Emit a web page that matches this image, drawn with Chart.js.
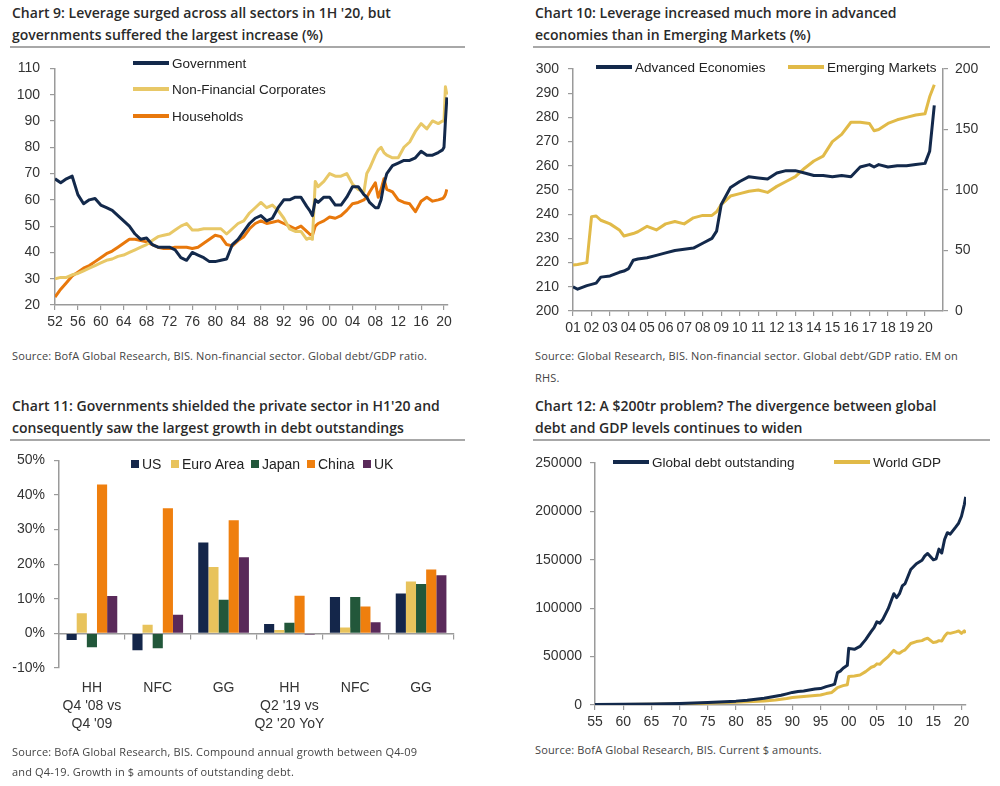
<!DOCTYPE html>
<html>
<head>
<meta charset="utf-8">
<script src="https://cdn.jsdelivr.net/npm/chart.js@4.4.1/dist/chart.umd.min.js"></script>
<style>
  body { margin: 0; background: #fff; width: 1000px; height: 786px; position: relative; overflow: hidden; font-family: 'Liberation Sans', Arial, sans-serif; }
  .title { position: absolute; font-family: 'Open Sans', sans-serif; font-weight: 600; font-size: 14px; line-height: 22px; color: #2a2a2a; padding-left: 2px; height: 44px; border-bottom: 2px solid #a8a8a8; white-space: nowrap; }
  .src { position: absolute; font-family: 'Open Sans', sans-serif; font-size: 11px; color: #444; letter-spacing: 0.15px; white-space: nowrap; }
  .box { position: absolute; }
  .lg { position: absolute; display: flex; align-items: center; font-size: 13.5px; color: #222; white-space: nowrap; height: 16px; }
  .lg i { display: inline-block; width: 36px; height: 4px; margin-right: 3px; }
  .lg b { display: inline-block; width: 8px; height: 8px; margin-right: 3px; }
</style>
</head>
<body>

<div class="title" style="left:10px; top:2px; width:453px;">Chart 9: Leverage surged across all sectors in 1H '20, but<br>governments suffered the largest increase (%)</div>
<div class="title" style="left:533px; top:2px; width:455px;">Chart 10: Leverage increased much more in advanced<br>economies than in Emerging Markets (%)</div>
<div class="title" style="left:10px; top:395px; width:453px;">Chart 11: Governments shielded the private sector in H1'20 and<br>consequently saw the largest growth in debt outstandings</div>
<div class="title" style="left:533px; top:395px; width:455px;">Chart 12: A $200tr problem? The divergence between global<br>debt and GDP levels continues to widen</div>

<div class="box" style="left:10px; top:50px; width:455px; height:290px;"><canvas id="c9"></canvas></div>
<div class="box" style="left:533px; top:50px; width:457px; height:290px;"><canvas id="c10"></canvas></div>
<div class="box" style="left:10px; top:443px; width:455px; height:300px;"><canvas id="c11"></canvas></div>
<div class="box" style="left:533px; top:443px; width:457px; height:290px;"><canvas id="c12"></canvas></div>

<!-- legends -->
<div class="lg" style="left:133px; top:55px;"><i style="background:#13294b"></i>Government</div>
<div class="lg" style="left:133px; top:81px;"><i style="background:#e8c867"></i>Non-Financial Corporates</div>
<div class="lg" style="left:133px; top:108px;"><i style="background:#e8780c"></i>Households</div>

<div class="lg" style="left:596px; top:59px;"><i style="background:#13294b"></i>Advanced Economies</div>
<div class="lg" style="left:788px; top:59px;"><i style="background:#e1ba48"></i>Emerging Markets</div>

<div class="lg" style="left:131px; top:456px; font-size:14px;"><b style="background:#14264a"></b>US</div>
<div class="lg" style="left:171px; top:456px; font-size:14px;"><b style="background:#e8c35c"></b>Euro Area</div>
<div class="lg" style="left:251px; top:456px; font-size:14px;"><b style="background:#22573a"></b>Japan</div>
<div class="lg" style="left:307px; top:456px; font-size:14px;"><b style="background:#ef7f0e"></b>China</div>
<div class="lg" style="left:363px; top:456px; font-size:14px;"><b style="background:#5a2a5a"></b>UK</div>

<div class="lg" style="left:613px; top:454px;"><i style="background:#13294b"></i>Global debt outstanding</div>
<div class="lg" style="left:834px; top:454px;"><i style="background:#e1ba48"></i>World GDP</div>

<div class="src" style="left:12px; top:345px; line-height:22px;">Source: BofA Global Research, BIS. Non-financial sector. Global debt/GDP ratio.</div>
<div class="src" style="left:535px; top:345px; line-height:22px;">Source: Global Research, BIS. Non-financial sector. Global debt/GDP ratio. EM on<br>RHS.</div>
<div class="src" style="left:12px; top:742px; line-height:20px;">Source: BofA Global Research, BIS. Compound annual growth between Q4-09<br>and Q4-19. Growth in $ amounts of outstanding debt.</div>
<div class="src" style="left:535px; top:740px; line-height:20px;">Source: BofA Global Research, BIS. Current $ amounts.</div>

<script>
// ---- Chart 9: debt/GDP by sector (%) ----
const names9 = ['Government', 'Non-Financial Corporates', 'Households'];
const years9 = [
  1952, 1953, 1954, 1955, 1956, 1957, 1958, 1959,
  1960, 1961, 1962, 1963, 1964, 1965, 1966, 1967, 1968, 1969,
  1970, 1971, 1972, 1973, 1974, 1975, 1976, 1977, 1978, 1979,
  1980, 1981, 1982, 1983, 1984, 1985, 1986, 1987, 1988, 1989,
  1990, 1991, 1992, 1993, 1994, 1995, 1996, 1996.5, 1997, 1997.5, 1998, 1999,
  2000, 2001, 2002, 2003, 2004, 2005, 2006, 2006.5, 2007, 2008, 2008.5, 2009, 2009.5,
  2010, 2011, 2012, 2013, 2014, 2015, 2016, 2017, 2018, 2019, 2019.75, 2020, 2020.25, 2020.5
];
const gov9 = [
  68, 66.5, 68, 69, 62, 58.5, 60, 60.5,
  58, 57, 56, 54, 52, 50, 47, 45, 45.5, 43,
  42, 42, 42, 41, 38, 37, 40, 39, 38, 36.5,
  36.5, 37, 37.5, 43, 45, 48, 51, 53, 54, 52,
  53, 57, 60, 60, 61, 61, 57.5, 56, 54, 60, 59, 61,
  61, 58, 58, 61, 65, 65, 62, 61, 59, 57, 57, 60, 66,
  70, 73, 74, 75, 75, 76, 78.5, 77, 77, 78, 79, 80, 90, 99
];
const nfc9 = [
  30, 30.5, 30.5, 31.5, 32, 33, 34, 35,
  36, 37, 37.5, 38.5, 39, 40, 41, 42, 43, 44.5,
  46, 46.5, 47, 48.5, 50, 51, 48.5, 48.5, 49, 49,
  49, 49, 47, 49, 51, 52, 55, 57, 59, 57,
  58, 56, 53, 49, 48, 48, 45, 45.5, 45, 67, 65, 67,
  70, 69, 69, 70, 66, 64, 63, 70, 72, 77, 79, 80, 78,
  77, 76, 76, 80, 82, 86, 89, 87, 90, 89, 90, 90, 103, 100
];
const hh9 = [
  23, 26, 28.5, 31, 32.5, 34, 35, 36.5,
  38, 39.5, 40.5, 42, 43.5, 45, 45, 44.5, 44, 43,
  42, 41.5, 41.5, 42, 42, 42, 41.5, 42, 43.5, 45,
  46.5, 46, 43, 42.5, 44.5, 46, 49, 51, 52, 51,
  51.5, 52, 51, 50, 49, 50, 48, 47, 46.5, 50, 51, 52,
  53.5, 53, 54, 56, 58.5, 59, 60, 61, 63, 66.5, 61, 64, 68,
  64, 63, 60, 59, 58.5, 55.5, 59.5, 61, 59.5, 60, 60.5, 61, 62, 64
];
const xTicks9 = [1952, 1956, 1960, 1964, 1968, 1972, 1976, 1980, 1984, 1988, 1992, 1996, 2000, 2004, 2008, 2012, 2016, 2020];

// ---- Chart 10: advanced vs emerging (%) ----
const names10 = ['Advanced Economies', 'Emerging Markets'];
const years10 = [
  2001, 2001.25, 2001.75, 2002, 2002.25, 2002.5, 2003, 2003.5, 2003.75, 2004,
  2004.25, 2004.5, 2005, 2005.5, 2006, 2006.5, 2007, 2007.5, 2008, 2008.5,
  2008.75, 2009, 2009.5, 2010, 2010.5, 2011, 2011.5, 2012, 2012.5, 2013,
  2013.5, 2014, 2014.5, 2015, 2015.5, 2016, 2016.5, 2017, 2017.25, 2017.5,
  2018, 2018.5, 2019, 2019.5, 2020, 2020.25, 2020.5
];
const adv10 = [
  210, 209, 210.5, 211, 211.5, 214, 214.5, 216, 216.5, 217.5,
  221, 221.5, 222, 223, 224, 225, 225.5, 226, 228, 230,
  233, 244, 251, 253.5, 255.5, 255, 254.5, 257, 258, 258,
  257, 256, 256, 255.5, 256, 255.5, 259.5, 260.5, 259.5, 260.5,
  259.5, 260, 260, 260.5, 261, 266, 285
];
const em10 = [
  38, 38.5, 40, 78, 78.5, 75, 72, 67, 62, 63,
  64, 65.5, 70, 67, 72, 74, 72, 77, 79, 79,
  82, 88, 95, 97, 99, 100, 98, 103, 107, 111,
  118, 124, 128, 140, 146, 156, 156, 155, 149, 150,
  155, 158, 160, 162, 163, 177, 187
];
const xTicks10 = [2001, 2002, 2003, 2004, 2005, 2006, 2007, 2008, 2009, 2010, 2011, 2012, 2013, 2014, 2015, 2016, 2017, 2018, 2019, 2020];

// ---- Chart 11: growth in debt outstanding (%) ----
const cats11 = [['HH', "Q4 '08 vs", "Q4 '09"], 'NFC', 'GG', ['HH', "Q2 '19 vs", "Q2 '20 YoY"], 'NFC', 'GG'];
const names11 = ['US', 'Euro Area', 'Japan', 'China', 'UK'];
const us11 = [-1.9, -4.9, 26.3, 2.7, 10.5, 11.5];
const ea11 = [5.8, 2.5, 19.2, 1.0, 1.7, 15.0];
const jp11 = [-4.0, -4.3, 9.7, 3.1, 10.5, 14.3];
const cn11 = [43.0, 36.2, 32.7, 10.9, 7.8, 18.5];
const uk11 = [10.8, 5.4, 22.0, -0.3, 3.2, 16.8];

// ---- Chart 12: global debt vs GDP ($bn) ----
const names12 = ['Global debt outstanding', 'World GDP'];
const years12 = [
  1955, 1960, 1965, 1970, 1975, 1980, 1982, 1985, 1987, 1988, 1989,
  1990, 1991, 1992, 1993, 1994, 1995, 1996, 1997, 1997.5, 1998, 1998.5, 1999, 1999.75,
  2000, 2001, 2002, 2003, 2004, 2004.5, 2005, 2005.5, 2006, 2007, 2008, 2008.5, 2009, 2009.5,
  2010, 2011, 2012, 2013, 2013.5, 2014, 2015, 2015.5, 2016, 2016.5, 2017, 2017.5, 2018, 2019, 2019.5,
  2020, 2020.5, 2020.75
];
const debt12 = [
  500, 700, 1000, 1500, 2500, 4000, 5000, 7000, 9000, 10000, 11500,
  13000, 14000, 14500, 15500, 16500, 17000, 19000, 20500, 21500, 33500, 35000, 38000, 41000,
  58500, 57500, 60500, 67500, 76000, 80000, 86000, 84500, 88000, 99500, 115000, 111000, 115000, 123000,
  125500, 140000, 146000, 149500, 154000, 156500, 150000, 151000, 161000, 157000, 171000, 178000, 176500, 184000, 188000,
  195000, 207000, 215000
];
const gdp12 = [
  300, 450, 650, 1000, 1700, 2800, 3300, 4200, 5200, 6000, 6800,
  7800, 8300, 8800, 9300, 9800, 10300, 11800, 13000, 15500, 18000, 19000, 20000, 21000,
  29500, 30000, 31000, 34500, 39000, 40000, 42500, 42000, 45000, 50000, 56500, 54000, 53500, 55500,
  57000, 63500, 65500, 66500, 68000, 69000, 64500, 65000, 66500, 66000, 71000, 74500, 74000, 75500, 76500,
  74000, 76500, 74500
];
const xTicks12 = [1955, 1960, 1965, 1970, 1975, 1980, 1985, 1990, 1995, 2000, 2005, 2010, 2015, 2020];

// ---- shared styling ----
const navy = '#13294b';
const axisColor = '#9a9a9a';
Chart.defaults.font.family = "'Liberation Sans', Arial, sans-serif";
Chart.defaults.font.size = 14;
Chart.defaults.color = '#333';
Chart.defaults.animation = false;
Chart.defaults.plugins.legend.display = false;
Chart.defaults.plugins.tooltip.enabled = false;

const grid = { drawOnChartArea: false, tickLength: 5, color: axisColor, lineWidth: 1.2 };
const border = { color: axisColor, width: 1.5 };
const twoDigit = v => String(Math.round(v) % 100).padStart(2, '0');
const pts = (xs, ys) => xs.map((x, i) => ({ x: x, y: ys[i] }));
const fixedTicks = list => scale => { scale.ticks = list.map(v => ({ value: v })); };
const lineSet = (label, xs, ys, color, axis) => ({
  label: label, data: pts(xs, ys), borderColor: color, backgroundColor: color,
  borderWidth: 3, borderJoinStyle: 'round', pointRadius: 0, tension: 0, yAxisID: axis || 'y'
});

// Chart 9
new Chart(document.getElementById('c9'), {
  type: 'line',
  data: {
    datasets: [
      lineSet(names9[0], years9, gov9, navy),
      lineSet(names9[1], years9, nfc9, '#e8c867'),
      lineSet(names9[2], years9, hh9, '#e8780c')
    ]
  },
  options: {
    responsive: true, maintainAspectRatio: false,
    layout: { padding: { top: 17, right: 17 } },
    scales: {
      x: {
        type: 'linear', min: 1952, max: 2020.7,
        afterBuildTicks: fixedTicks(xTicks9),
        ticks: { callback: twoDigit, autoSkip: false, maxRotation: 0, padding: 4 },
        grid: grid, border: border,
        afterFit: s => { s.height = 35; }
      },
      y: {
        min: 20, max: 110,
        ticks: { stepSize: 10, padding: 10 },
        grid: grid, border: border,
        afterFit: s => { s.width = 45; }
      }
    }
  }
});

// Chart 10
new Chart(document.getElementById('c10'), {
  type: 'line',
  data: {
    datasets: [
      lineSet(names10[0], years10, adv10, navy, 'y'),
      lineSet(names10[1], years10, em10, '#e1ba48', 'y1')
    ]
  },
  options: {
    responsive: true, maintainAspectRatio: false,
    layout: { padding: { top: 19 } },
    scales: {
      x: {
        type: 'linear', min: 2001, max: 2020.97,
        afterBuildTicks: fixedTicks(xTicks10),
        ticks: { callback: twoDigit, autoSkip: false, maxRotation: 0, padding: 4 },
        grid: grid, border: border,
        afterFit: s => { s.height = 29; }
      },
      y: {
        position: 'left', min: 200, max: 300,
        ticks: { stepSize: 10, padding: 9 },
        grid: grid, border: border,
        afterFit: s => { s.width = 40; }
      },
      y1: {
        position: 'right', min: 0, max: 200,
        ticks: { stepSize: 50, padding: 7 },
        grid: grid, border: border,
        afterFit: s => { s.width = 47; }
      }
    }
  }
});

// Chart 11
const barColors11 = ['#14264a', '#e8c35c', '#22573a', '#ef7f0e', '#5a2a5a'];
const series11 = [us11, ea11, jp11, cn11, uk11];
new Chart(document.getElementById('c11'), {
  type: 'bar',
  data: {
    labels: cats11,
    datasets: series11.map((vals, i) => ({
      label: names11[i], data: vals, backgroundColor: barColors11[i],
      categoryPercentage: 0.77, barPercentage: 1.0
    }))
  },
  options: {
    responsive: true, maintainAspectRatio: false,
    layout: { padding: { top: 14, right: 11 } },
    scales: {
      x: {
        grid: { display: false }, border: { display: false },
        ticks: { padding: 3, autoSkip: false, maxRotation: 0, font: { size: 14, lineHeight: 1.3 } },
        afterFit: s => { s.height = 75; }
      },
      x0: {
        axis: 'x', type: 'category', position: { y: 0 }, offset: true,
        grid: { offset: true, drawOnChartArea: false, tickLength: 5, color: axisColor, lineWidth: 1.2 },
        ticks: { display: false },
        border: border
      },
      y: {
        min: -10, max: 50,
        ticks: { stepSize: 10, padding: 9, callback: v => v + '%' },
        grid: grid, border: border,
        afterFit: s => { s.width = 49; }
      }
    }
  }
});

// Chart 12
new Chart(document.getElementById('c12'), {
  type: 'line',
  data: {
    datasets: [
      lineSet(names12[0], years12, debt12, navy),
      lineSet(names12[1], years12, gdp12, '#e1ba48')
    ]
  },
  options: {
    responsive: true, maintainAspectRatio: false,
    layout: { padding: { top: 20, right: 24 } },
    scales: {
      x: {
        type: 'linear', min: 1955, max: 2020.8,
        afterBuildTicks: fixedTicks(xTicks12),
        ticks: { callback: twoDigit, autoSkip: false, maxRotation: 0, padding: 4 },
        grid: grid, border: border,
        afterFit: s => { s.height = 28; }
      },
      y: {
        min: 0, max: 250000,
        ticks: { stepSize: 50000, padding: 8, callback: v => String(v) },
        grid: grid, border: border,
        afterFit: s => { s.width = 62; }
      }
    }
  }
});
</script>
</body>
</html>
